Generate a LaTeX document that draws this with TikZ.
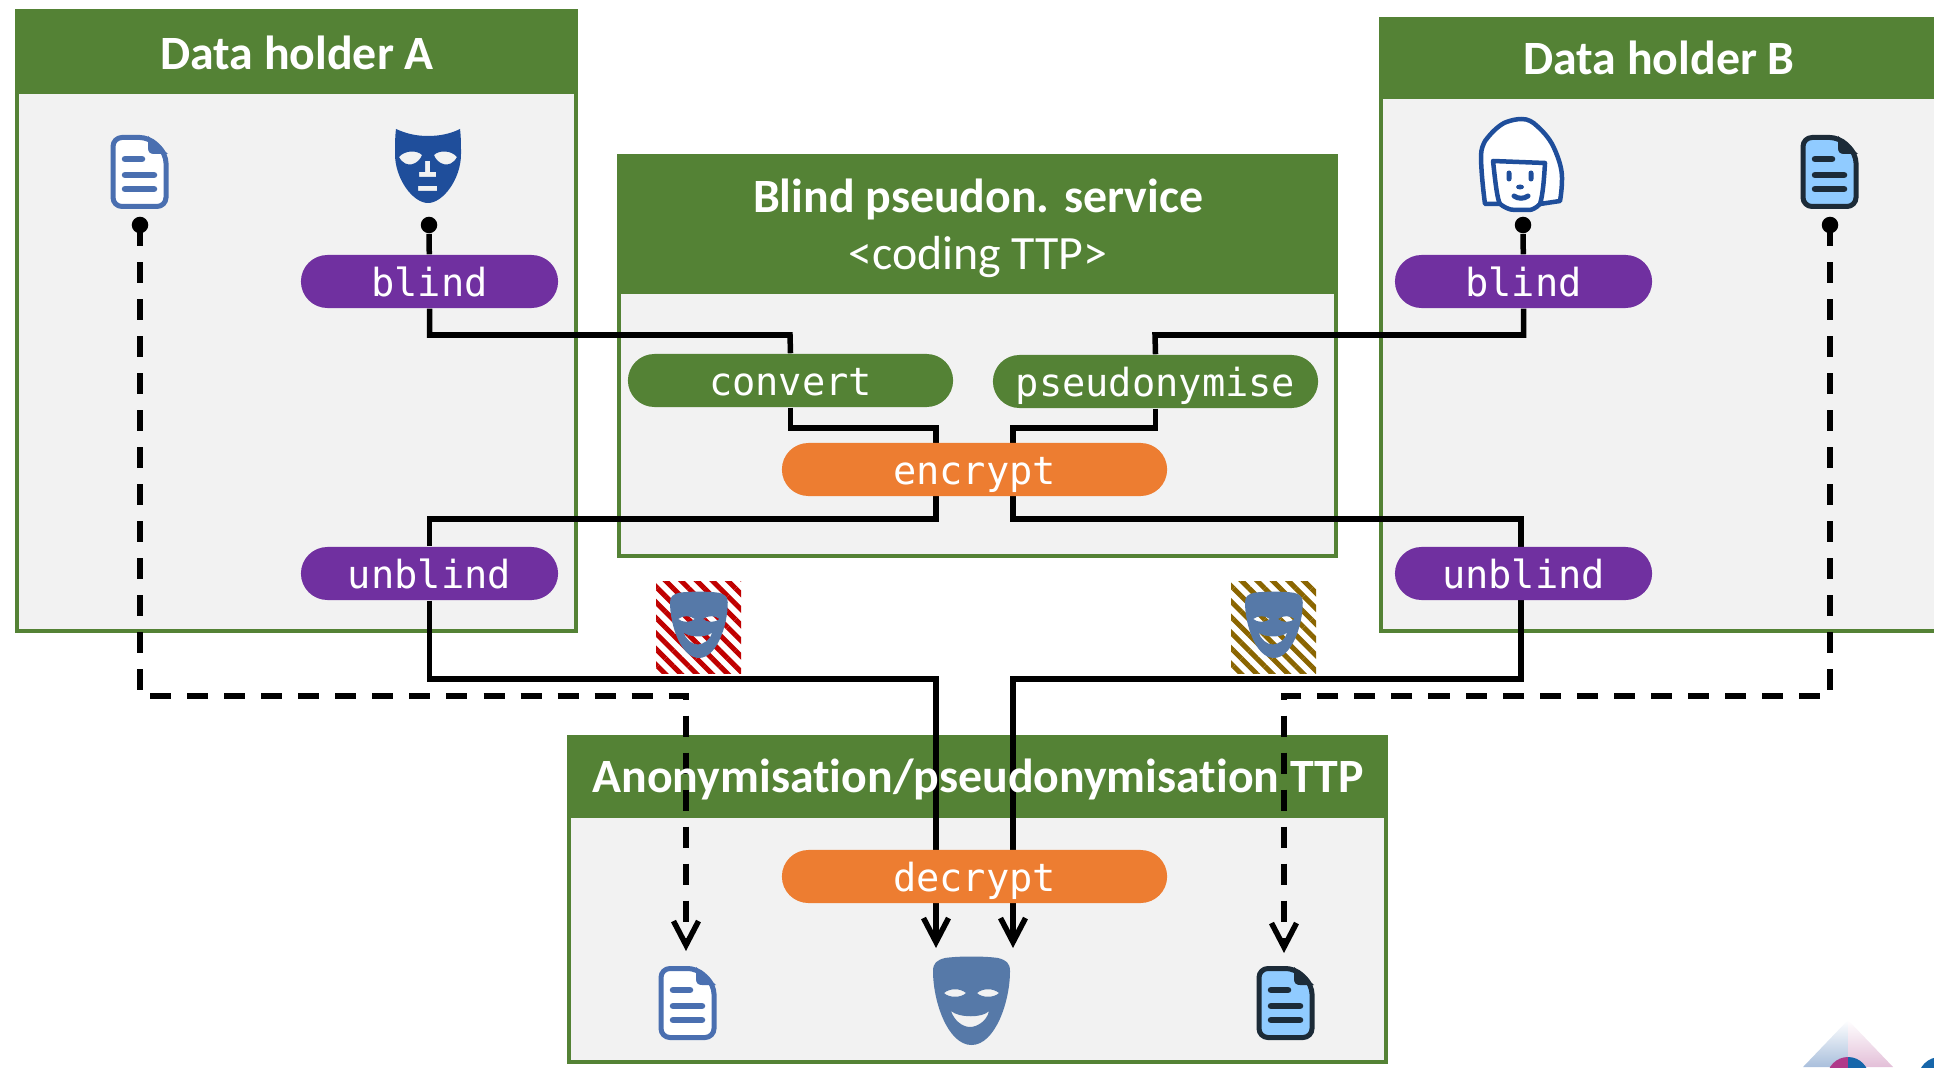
\documentclass[tikz,border=0pt]{standalone}
\usepackage{fontspec}
\setmainfont[Ligatures=NoCommon]{Carlito}
\setmonofont{DejaVu Sans Mono}
\usetikzlibrary{arrows.meta,shapes.misc,patterns.meta}

\definecolor{panelgreen}{HTML}{548235}
\definecolor{panelgrey}{HTML}{F2F2F2}
\definecolor{pillpurple}{HTML}{7030A0}
\definecolor{pillorange}{HTML}{ED7D31}
\definecolor{maskdark}{HTML}{1F4E9B}
\definecolor{maskblue}{HTML}{5679A8}
\definecolor{docblue}{HTML}{4A6FB0}
\definecolor{docdark}{HTML}{1C2B38}
\definecolor{docsky}{HTML}{90CBFF}
\definecolor{hatchred}{HTML}{C00000}
\definecolor{hatchbrown}{HTML}{8A6500}
\definecolor{logoblue}{HTML}{1766AA}
\definecolor{logopink}{HTML}{B03A8A}
\definecolor{logopaleblue}{HTML}{A9BFDC}
\definecolor{logopalepink}{HTML}{E3BFD8}

\pgfdeclarelayer{panels}
\pgfdeclarelayer{wires}
\pgfsetlayers{panels,wires,main}

\tikzset{
  panel/.style={draw=panelgreen, fill=panelgrey, line width=.045cm},
  banner/.style={fill=panelgreen},
  bannertext/.style={text=white, font=\fontsize{13.6}{16.2}\selectfont, align=center},
  pill/.style={rounded rectangle, inner sep=0pt, minimum height=.53cm, text=white,
    font=\ttfamily\fontsize{11}{13}\selectfont, text height=.3cm, text depth=0cm},
  wire/.style={line width=.055cm, draw=black},
  wiredash/.style={wire, dash pattern=on .21cm off .16cm},
  tip/.style={-{Straight Barb[length=.24cm,width=.25cm,line width=.055cm]}},
  dot/.style={circle, fill=black, inner sep=0pt, minimum size=.165cm},
  hatchbox/.style={pattern={Lines[angle=-45,distance=.11cm,line width=.05cm]}, pattern color=#1},
  pics/docicon/.style 2 args={code={
    \filldraw[draw=#1, fill=#2, line width=.05cm, rounded corners=.09cm]
      (2,2.5) -- (38,2.5) -- (55,19) -- (55,71.5) -- (2,71.5) -- cycle;
    \fill[#1] (37,1) -- (37,13) .. controls (37,17) and (39,19) .. (43,19) -- (57,19) -- cycle;
    \draw[#1, line width=.065cm, line cap=round] (14,24) -- (31,24) (14,40) -- (43,40) (14,54) -- (43,54);
  }},
  pics/plainmask/.style={code={
    \fill[maskdark, even odd rule]
      (1,0) .. controls (12,5) and (22,7) .. (33,7) .. controls (44,7) and (55,5) .. (65,0)
      .. controls (66,8) and (66,16) .. (66,25) .. controls (66,50) and (48,74) .. (33,74)
      .. controls (18,74) and (0,50) .. (0,25) .. controls (0,16) and (0,8) .. (1,0) -- cycle
      (4,28) .. controls (10,21) and (22,21) .. (27,26) .. controls (24,35) and (11,41) .. (4,28) -- cycle
      (62,28) .. controls (56,21) and (44,21) .. (39,26) .. controls (42,35) and (55,41) .. (62,28) -- cycle
      (30,32) -- (35,32) -- (35,43) -- (41,43) -- (41,48) -- (24,48) -- (24,43) -- (30,43) -- cycle
      (23,57) -- (42,57) -- (42,62) -- (23,62) -- cycle;
  }},
  pics/smilemask/.style={code={
    \fill[maskblue, even odd rule]
      (12,1) .. controls (25,-1) and (52,-1) .. (65,1) .. controls (73,3) and (77,6) .. (77,14)
      .. controls (77,45) and (62,88) .. (38.5,88) .. controls (15,88) and (0,45) .. (0,14)
      .. controls (0,6) and (4,3) .. (12,1) -- cycle
      (11,36) .. controls (17,31) and (27,31) .. (33,36) .. controls (28,41) and (16,41) .. (11,36) -- cycle
      (66,36) .. controls (60,31) and (50,31) .. (44,36) .. controls (49,41) and (61,41) .. (66,36) -- cycle
      (18,54) .. controls (26,61) and (50,61) .. (56,54) .. controls (54,64) and (44,70) .. (37,70)
      .. controls (29,70) and (21,63) .. (18,54) -- cycle;
  }},
  pics/faceicon/.style={code={
    \filldraw[draw=maskdark, fill=white, line width=.045cm, line join=round]
      (4,85) .. controls (2,70) and (0,50) .. (0,37) .. controls (0,30) and (2,26) .. (4,22)
      .. controls (10,14) and (16,8) .. (23,4) .. controls (30,1) and (36,0) .. (41,0)
      .. controls (47,0) and (52,3) .. (56,7) .. controls (64,14) and (70,22) .. (73,29)
      .. controls (78,40) and (81,50) .. (81,59) .. controls (81,68) and (80,76) .. (79,82)
      -- (59,85) .. controls (55,89) and (51,91) .. (48,91) -- (34,91)
      .. controls (28,91) and (23,88) .. (19,85) -- cycle;
    \draw[maskdark, line width=.045cm, line join=round]
      (19,85) .. controls (16,80) and (14,60) .. (12,42) -- (64,44) .. controls (63,60) and (62,75) .. (59,85);
    \draw[maskdark, line width=.05cm, line cap=round]
      (28,54) -- (28,60) (50,54) -- (50,60) (33,77) .. controls (37,80) and (43,80) .. (47,77);
    \fill[maskdark] (39,68) ellipse (4 and 2.5);
  }},
}

\begin{document}
\begin{tikzpicture}[x=.01cm, y=-.01cm]
\useasboundingbox (0,0) rectangle (1934,1067);
\clip (0,0) rectangle (1934,1067);

% Panels
\begin{pgfonlayer}{panels}
\draw[panel] (17,11) rectangle (576,631);
\fill[banner] (15,9) rectangle (578,94);
\draw[panel] (1381,19) rectangle (1990,631);
\fill[banner] (1379,17) rectangle (1990,99);
\draw[panel] (619,156) rectangle (1336,556);
\fill[banner] (617,154) rectangle (1338,294);
\draw[panel] (569,737) rectangle (1386,1062);
\fill[banner] (567,735) rectangle (1388,818);
\end{pgfonlayer}

\node[bannertext] (titleA) at (297,53) {\textbf{Data holder A}};
\node[bannertext] (titleB) at (1659,58) {\textbf{Data holder B}};
\node[bannertext] (titleBlind) at (978,228) {\textbf{Blind pseudon. service}\\<coding TTP>};
\node[bannertext] (titleTTP) at (978,779) {\textbf{Anonymisation/pseudonymisation TTP}};

% Operations
\node[pill, fill=pillpurple, minimum width=2.57cm] (blindA) at (429.5,281.5) {blind};
\node[pill, fill=pillpurple, minimum width=2.57cm] (unblindA) at (429.5,573.5) {unblind};
\node[pill, fill=pillpurple, minimum width=2.57cm] (blindB) at (1523.5,281.5) {blind};
\node[pill, fill=pillpurple, minimum width=2.57cm] (unblindB) at (1523.5,573.5) {unblind};
\node[pill, fill=panelgreen, minimum width=3.25cm] (convert) at (790.5,380.5) {convert};
\node[pill, fill=panelgreen, minimum width=3.25cm] (pseudonymise) at (1155.5,381.5) {pseudonymise};
\node[pill, fill=pillorange, minimum width=3.85cm] (encrypt) at (974.5,469.5) {encrypt};
\node[pill, fill=pillorange, minimum width=3.85cm] (decrypt) at (974.5,876.5) {decrypt};

% Ends and bends of the wires
\node[dot] (dotDocA) at (140,225) {};
\node[dot] (dotMaskA) at (429,225) {};
\node[dot] (dotFaceB) at (1523,225) {};
\node[dot] (dotDocB) at (1830,225) {};
\coordinate (busA) at (790,335);
\coordinate (busB) at (1155,335);
\coordinate (encInA) at (936,428);
\coordinate (encInB) at (1013,428);
\coordinate (encOutA) at (936,519);
\coordinate (encOutB) at (1013,519);
\coordinate (decInA) at (936,679);
\coordinate (decInB) at (1013,679);
\coordinate (maskInA) at (936,948);
\coordinate (maskInB) at (1013,948);
\coordinate (dashA) at (686,696);
\coordinate (dashB) at (1284,696);
\coordinate (docInA) at (686,951);
\coordinate (docInB) at (1284,953);
\coordinate (portInB) at (1521,548);
\coordinate (portOutB) at (1521,600);

% Wires
\begin{pgfonlayer}{wires}
\draw[wire] (dotMaskA) -- (blindA);
\draw[wire] (blindA.south) |- (busA) -- (convert.north);
\draw[wire] (convert.south) |- (encInA) -- (encOutA) -| (unblindA.north);
\draw[wire, tip] (unblindA.south) |- (decInA) -- (maskInA);
\draw[wire] (dotFaceB) -- (blindB);
\draw[wire] (blindB.south) |- (busB) -- (pseudonymise.north);
\draw[wire] (pseudonymise.south) |- (encInB) -- (encOutB) -| (portInB);
\draw[wire, tip] (portOutB) |- (decInB) -- (maskInB);
\draw[wiredash, tip] (dotDocA.center) |- (dashA) -- (docInA);
\draw[wiredash, tip] (dotDocB.center) |- (dashB) -- (docInB);
\end{pgfonlayer}

% Icons
\pic at (111,135) {docicon={docblue}{white}};
\pic at (395,129) {plainmask};
\pic at (1481,119) {faceicon};
\pic at (1801,135) {docicon={docdark}{docsky}};
\pic at (659,966) {docicon={docblue}{white}};
\pic at (933,957) {smilemask};
\pic at (1257,966) {docicon={docdark}{docsky}};
\fill[hatchbox=hatchred] (656,581) rectangle (741,673);
\pic[scale=.75] at (670,592) {smilemask};
\fill[hatchbox=hatchbrown] (1231,581) rectangle (1316,673);
\pic[scale=.75] at (1245,592) {smilemask};

% Logo in the corner
\shade[top color=white, bottom color=logopaleblue] (1848,1020) -- (1803,1067) -- (1848,1067) -- cycle;
\shade[top color=white, bottom color=logopalepink] (1848,1020) -- (1893,1067) -- (1848,1067) -- cycle;
\fill[logopink] (1848,1057) arc[start angle=-90, end angle=-180, radius=21] -- (1848,1078) -- cycle;
\fill[logoblue] (1848,1057) arc[start angle=-90, end angle=0, radius=21] -- (1848,1078) -- cycle;
\fill[logoblue] (1940,1079) circle (22);
\end{tikzpicture}
\end{document}
